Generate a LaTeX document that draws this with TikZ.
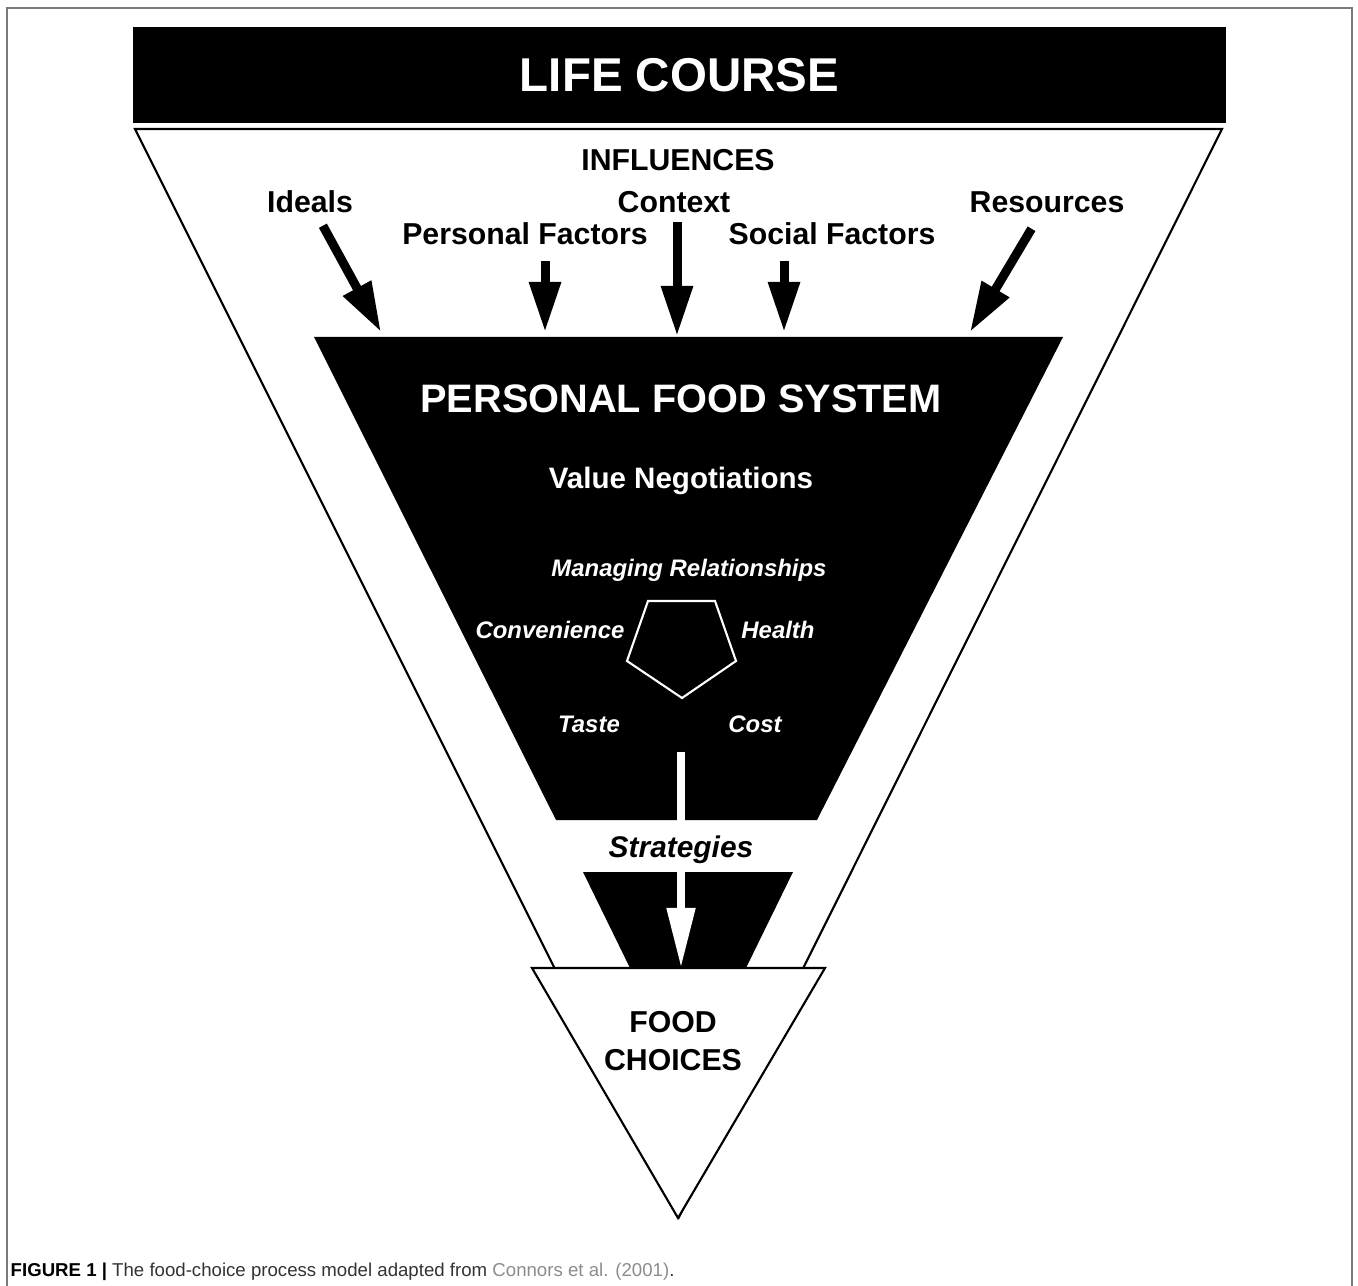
\documentclass[tikz,border=0pt]{standalone}
\usepackage{fontspec}
\setmainfont{Liberation Sans}
\usepackage{xcolor}
\usepackage{tikz}
\usetikzlibrary{arrows.meta,positioning,calc}
\definecolor{framegray}{HTML}{7A7A7A}
\definecolor{captext}{HTML}{333333}
\definecolor{linkgray}{HTML}{8C8C8C}

\tikzset{
  inflbl/.style={anchor=base, font=\fontsize{8.6}{10}\selectfont\bfseries},
  vallbl/.style={anchor=base, text=white, font=\fontsize{6.8}{8}\selectfont\bfseries\itshape},
  infarrow/.style={line width=0.09cm, -{Triangle[length=0.5cm,width=0.3cm]}, shorten <=0pt},
  funnel/.style={draw=black, line width=0.6pt, line join=miter}
}

\begin{document}
\begin{tikzpicture}[x=0.01cm,y=-0.01cm]
  \useasboundingbox (0,0) rectangle (1358,1286);

  % Page frame
  \draw[framegray, line width=0.6pt] (7,1286) -- (7,8) -- (1352,8) -- (1352,1286);

  % Outer funnel
  \draw[funnel] (135,129) -- (1222,129) -- (679,1217) -- cycle;

  % Life course bar
  \node[fill=black, text=white, minimum width=10.93cm, minimum height=0.96cm, inner sep=0pt,
        font=\fontsize{13.5}{16}\selectfont\bfseries] (life) at (679.5,75) {LIFE COURSE};

  % Influences
  \node[inflbl] (infl) at (678,171) {INFLUENCES};
  \node[inflbl] (ideals) at (310,213) {Ideals};
  \node[inflbl] (ctx) at (674,213) {Context};
  \node[inflbl] (res) at (1047,213) {Resources};
  \node[inflbl] (pers) at (525,245) {Personal Factors};
  \node[inflbl] (soc) at (832,245) {Social Factors};

  % Personal food system (cut by the strategies band)
  \fill[black] (314,337) -- (1063,337) -- (817,820) -- (556,820) -- cycle;
  \fill[black] (583,872) -- (793,872) -- (746,968) -- (630,968) -- cycle;

  % Arrow ends on the system
  \coordinate (ideals-e) at (381,332);
  \coordinate (pers-e) at (545,332);
  \coordinate (ctx-e) at (677,336);
  \coordinate (soc-e) at (784,332);
  \coordinate (res-e) at (970,332);

  \draw[infarrow] (ideals) -- (ideals-e);
  \draw[infarrow, shorten <=1pt] (pers.south -| pers-e) -- (pers-e);
  \draw[infarrow, shorten <=-1pt] (ctx.south -| ctx-e) -- (ctx-e);
  \draw[infarrow, shorten <=1pt] (soc.south -| soc-e) -- (soc-e);
  \draw[infarrow, shorten <=1pt] (res) -- (res-e);

  \node[anchor=base, text=white, font=\fontsize{11.3}{14}\selectfont\bfseries] (pfs) at (681,413) {PERSONAL FOOD SYSTEM};
  \node[anchor=base, text=white, font=\fontsize{8.4}{10}\selectfont\bfseries] (valneg) at (681,489) {Value Negotiations};

  % Values around the pentagon
  \draw[white, line width=0.6pt, line join=miter] (648,601) -- (715,601) -- (736,661) -- (682,698) -- (627,661) -- cycle;
  \node[vallbl] (manage) at (689,577) {Managing Relationships};
  \node[vallbl] (conv) at (550,639) {Convenience};
  \node[vallbl] (health) at (778,639) {Health};
  \node[vallbl] (taste) at (589,732) {Taste};
  \node[vallbl] (cost) at (755,732) {Cost};

  % Strategies
  \coordinate (sys-out) at (681,752);
  \coordinate (choice-in) at (681,968);
  \draw[white, line width=0.08cm, -{Triangle[length=0.6cm,width=0.27cm]}] (sys-out) -- (choice-in);
  \node[anchor=base, font=\fontsize{8.5}{10}\selectfont\bfseries\itshape] (strat) at (681,857) {Strategies};

  % Food choices
  \draw[funnel, fill=white] (532,968) -- (825,968) -- (678,1218) -- cycle;
  \node[align=center, font=\fontsize{8.6}{10.8}\selectfont\bfseries] (choices) at (673,1041) {FOOD\\CHOICES};

  % Caption
  \node[anchor=base west, inner sep=0pt, text=captext, font=\fontsize{5.3}{6.5}\selectfont] (cap) at (10,1276)
    {\textcolor{black}{\bfseries FIGURE 1 |} The food-choice process model adapted from \textcolor{linkgray}{Connors et al. (2001)}.};
\end{tikzpicture}
\end{document}
